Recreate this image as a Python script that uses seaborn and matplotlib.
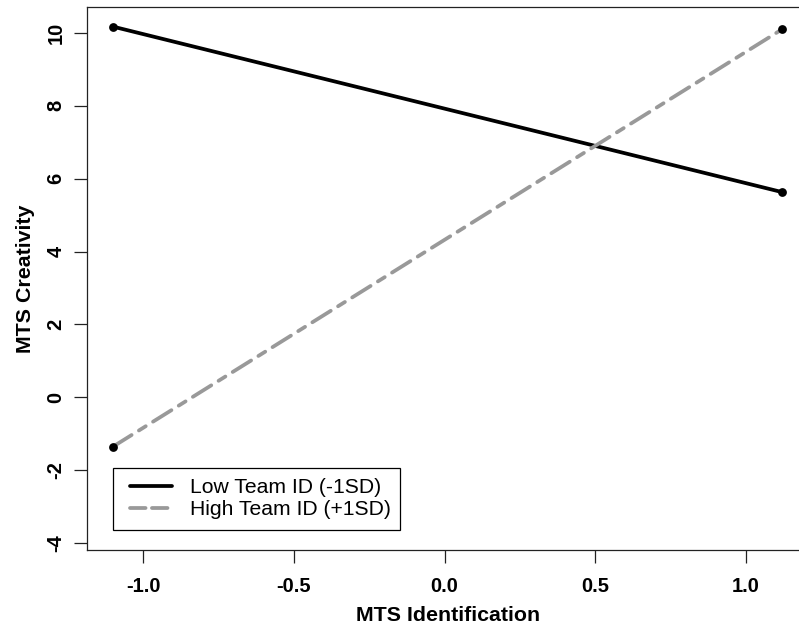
import matplotlib
matplotlib.use("Agg")
import matplotlib.pyplot as plt
import seaborn as sns
import pandas as pd
from matplotlib.lines import Line2D
from matplotlib.legend_handler import HandlerLine2D

# ---- data ----
groups = ["Low Team ID (-1SD)", "High Team ID (+1SD)"]
mts_identification = [-1.10, 1.12]
low_team_creativity = [10.17, 5.63]
high_team_creativity = [-1.35, 10.10]
x_ticks = [-1.0, -0.5, 0.0, 0.5, 1.0]
x_tick_labels = ["-1.0", "-0.5", "0.0", "0.5", "1.0"]
y_ticks = [-4, -2, 0, 2, 4, 6, 8, 10]
y_tick_labels = ["-4", "-2", "0", "2", "4", "6", "8", "10"]

df = pd.DataFrame({
    "MTS Identification": mts_identification * 2,
    "MTS Creativity": low_team_creativity + high_team_creativity,
    "group": [groups[0]] * 2 + [groups[1]] * 2,
})

sns.set_theme(style="white")
plt.rcParams["font.family"] = ["Liberation Sans", "DejaVu Sans"]
plt.rcParams["lines.scale_dashes"] = False
plt.rcParams["text.color"] = "black"
plt.rcParams["axes.labelcolor"] = "black"
plt.rcParams["xtick.color"] = "black"
plt.rcParams["ytick.color"] = "black"

GRAY = "#999999"
LW = 2.7
palette = {groups[0]: "black", groups[1]: GRAY}
dashes = {groups[0]: "", groups[1]: (15.6, 6.2, 5.8, 6.2)}

fig = plt.figure(figsize=(7.99, 6.27), dpi=100)
ax = fig.add_axes([87 / 799, 77 / 627, 722 / 799, 543 / 627])

sns.lineplot(data=df, x="MTS Identification", y="MTS Creativity", hue="group",
             style="group", palette=palette, dashes=dashes, linewidth=LW,
             legend=False, ax=ax, dash_capstyle="round", solid_capstyle="round")
sns.scatterplot(data=df, x="MTS Identification", y="MTS Creativity", color="black",
                s=40, linewidth=0, legend=False, ax=ax, zorder=5)

ax.set_xlim(-1.187, 1.209)
ax.set_ylim(-4.19, 10.71)
ax.set_xticks(x_ticks)
ax.set_xticklabels(x_tick_labels)
ax.set_yticks(y_ticks)
ax.set_yticklabels(y_tick_labels)

ax.tick_params(axis="both", which="major", direction="out", length=9.4, width=0.9,
               color="#222222", labelcolor="black", labelsize=14.5,
               bottom=True, left=True)
ax.tick_params(axis="x", pad=10)
ax.tick_params(axis="y", pad=6)
for lab in ax.get_xticklabels():
    lab.set_fontweight("bold")
for lab in ax.get_yticklabels():
    lab.set_fontweight("bold")
    lab.set_rotation(90)
    lab.set_va("center")
    lab.set_ha("right")

for sp in ax.spines.values():
    sp.set_visible(True)
    sp.set_color("#222222")
    sp.set_linewidth(0.9)

ax.set_xlabel("MTS Identification", fontsize=15.4, fontweight="bold", labelpad=7)
ax.set_ylabel("MTS Creativity", fontsize=15.4, fontweight="bold", labelpad=8.5)

handles = [
    Line2D([], [], color="black", linewidth=LW, solid_capstyle="round"),
    Line2D([], [], color=GRAY, linewidth=LW, dashes=(11.2, 4.6), dash_capstyle="round"),
]
x0 = (113.3 - 87) / 722
y0 = (550 - 530) / 543
w = (400 - 113.3) / 722
h = (530 - 466.7) / 543
leg = ax.legend(handles, groups, loc="lower left",
                bbox_to_anchor=(x0, y0, w, h), mode="expand",
                borderaxespad=0, fontsize=15.2, frameon=True, fancybox=False,
                framealpha=1, edgecolor="black", handlelength=2.29,
                handletextpad=0.84, labelspacing=0.15, borderpad=0.5,
                handler_map={h_: HandlerLine2D(xpad=0.31) for h_ in handles})
leg.get_frame().set_linewidth(0.9)

fig.savefig("out.png", dpi=100)
